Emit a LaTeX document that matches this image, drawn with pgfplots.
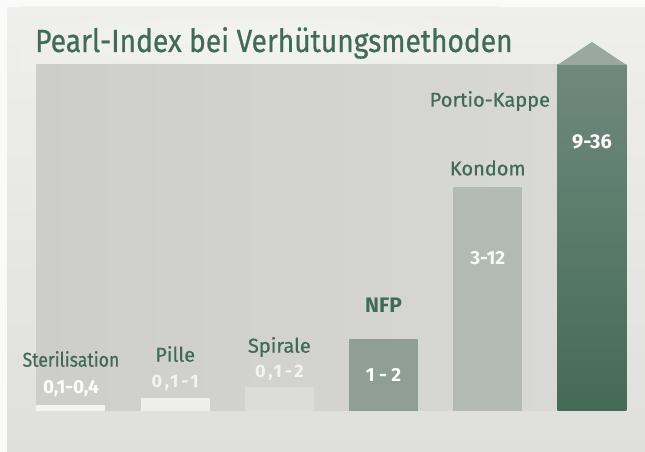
\documentclass[border=0pt]{standalone}
\usepackage{pgfplots}
\pgfplotsset{compat=1.18}
\usepackage{fontspec}
\setmainfont{Fira Sans}
\newfontfamily\med[FakeBold=0.7]{Fira Sans}
\newfontfamily\cond[FakeStretch=0.88, FakeBold=0.7]{Fira Sans}
\newfontfamily\spaced[LetterSpace=16]{Fira Sans}
\definecolor{bgA}{HTML}{EFEFED}
\definecolor{bgB}{HTML}{DFDFDD}
\definecolor{panA}{HTML}{D8D9D7}
\definecolor{panB}{HTML}{CDCECC}
\definecolor{txtgreen}{HTML}{416B58}
\definecolor{cSter}{HTML}{F3F3F2}
\definecolor{cPil}{HTML}{EEEEED}
\definecolor{cSpi}{HTML}{DCDDDB}
\definecolor{cNFP}{HTML}{8F9E96}
\definecolor{cKon}{HTML}{B3BAB5}
\definecolor{cPorA}{HTML}{6F897D}
\definecolor{cPorB}{HTML}{446B55}
\definecolor{cTip}{HTML}{9AA8A0}
\begin{document}
\begin{tikzpicture}[x=1pt,y=1pt]
\shade[top color=bgA, bottom color=bgB] (0,0) rectangle (645,452);
\fill[white!70!bgA] (0,0) rectangle (7,452);
\fill[white!70!bgA] (0,445) rectangle (645,452);
\shade[inner color=white!60!bgA, outer color=bgA, opacity=0.6] (20,380) rectangle (500,445);
\node[anchor=base west, text=txtgreen, font=\cond\fontsize{32}{35}\selectfont, inner sep=0pt] at (35,400) {Pearl-Index bei Verhütungsmethoden};
\begin{axis}[
  at={(35,41)}, anchor=south west,
  scale only axis, width=590pt, height=346pt,
  xmin=-0.331, xmax=5.331, ymin=0, ymax=34.6,
  hide axis, clip=false,
  ybar, bar width=69pt,
  every axis plot/.append style={bar shift=0pt, draw=none},
]
\shade[left color=panB, right color=panA] (axis cs:-0.331,0) rectangle (axis cs:4.669,34.6);
\addplot[fill=cSter] coordinates {(0,0.6)};
\addplot[fill=cPil] coordinates {(1,1.3)};
\addplot[fill=cSpi] coordinates {(2,2.4)};
\addplot[fill=cNFP] coordinates {(3,7.2)};
\addplot[fill=cKon] coordinates {(4,22.4)};
\addplot[top color=cPorA, bottom color=cPorB] coordinates {(5,34.6)};
\fill[cTip] (axis cs:4.669,34.6) -- (axis cs:5.331,34.6) -- (axis cs:5,36.9) -- cycle;
\begin{scope}[every node/.style={text=txtgreen, font=\med\fontsize{20}{22}\selectfont, inner sep=0pt}]
\node[font=\cond\fontsize{20}{22}\selectfont] at (axis cs:0,5.2) {Sterilisation};
\node at (axis cs:1,5.7) {Pille};
\node at (axis cs:2,6.4) {Spirale};
\node[font=\bfseries\fontsize{21}{23}\selectfont] at (axis cs:3,10.6) {NFP};
\node at (axis cs:4,24.3) {Kondom};
\node at (axis cs:4.02,31.0) {Portio-Kappe};
\end{scope}
\begin{scope}[every node/.style={text=white, font=\bfseries\fontsize{19}{21}\selectfont, inner sep=0pt}]
\node[opacity=0.95] at (axis cs:0,2.2) {0,1-0,4};
\node[opacity=0.75, font=\spaced\bfseries\fontsize{18}{20}\selectfont] at (axis cs:1,2.8) {0,1-1};
\node[opacity=0.75, font=\spaced\bfseries\fontsize{18}{20}\selectfont] at (axis cs:2,3.8) {0,1-2};
\node at (axis cs:3,3.6) {1 - 2};
\node[opacity=0.9] at (axis cs:4,15.3) {3-12};
\node[font=\bfseries\fontsize{20}{22}\selectfont] at (axis cs:5,26.9) {9-36};
\end{scope}
\end{axis}
\end{tikzpicture}
\end{document}
